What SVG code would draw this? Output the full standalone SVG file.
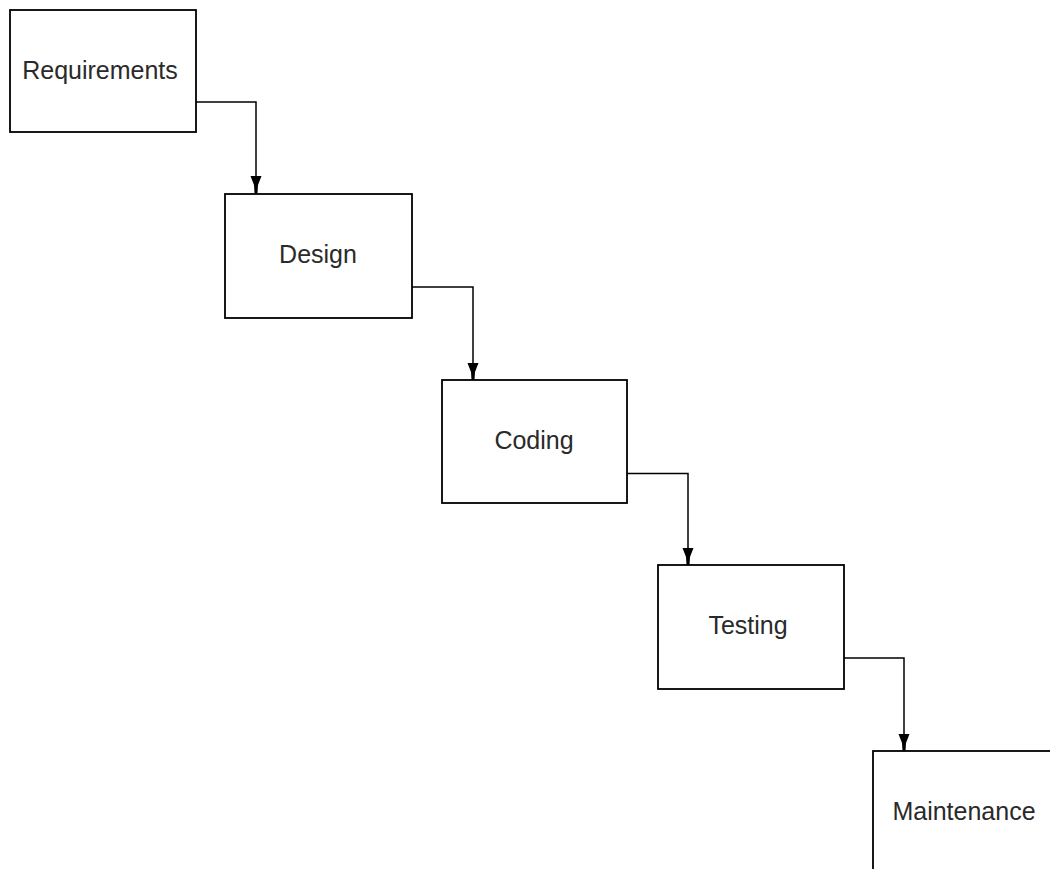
<svg xmlns="http://www.w3.org/2000/svg" width="1050" height="869" viewBox="0 0 1050 869">
<style>
.box{fill:#fff;stroke:#000;stroke-width:1.8}
.lbl{font-family:"Liberation Sans",Arial,sans-serif;font-size:25px;fill:#2a2a2a;text-anchor:middle}
.con{fill:none;stroke:#000;stroke-width:1.5}
</style>
<defs>
<marker id="arr" markerUnits="userSpaceOnUse" markerWidth="14" markerHeight="20" viewBox="0 0 14 20" refX="7" refY="19" orient="0">
<path d="M1.5,2 L12.5,2 L9,11 L8.5,19 L5.5,19 L5,11 Z" fill="#000"/>
</marker>
</defs>
<rect width="1050" height="869" fill="#fff"/>
<g id="connectors">
<path class="con" d="M196,102 H256 V193" marker-end="url(#arr)"/>
<path class="con" d="M412,287 H473 V380" marker-end="url(#arr)"/>
<path class="con" d="M627,473.5 H688 V565" marker-end="url(#arr)"/>
<path class="con" d="M844,658 H904 V751" marker-end="url(#arr)"/>
</g>
<g id="requirements">
<rect class="box" x="10" y="10" width="186" height="122"/>
<text class="lbl" x="100" y="79">Requirements</text>
</g>
<g id="design">
<rect class="box" x="225" y="194" width="187" height="124"/>
<text class="lbl" x="318" y="263">Design</text>
</g>
<g id="coding">
<rect class="box" x="442" y="380" width="185" height="123"/>
<text class="lbl" x="534" y="449">Coding</text>
</g>
<g id="testing">
<rect class="box" x="658" y="565" width="186" height="124"/>
<text class="lbl" x="748" y="634">Testing</text>
</g>
<g id="maintenance">
<rect class="box" x="873" y="751" width="186" height="124"/>
<text class="lbl" x="964" y="820">Maintenance</text>
</g>
</svg>
